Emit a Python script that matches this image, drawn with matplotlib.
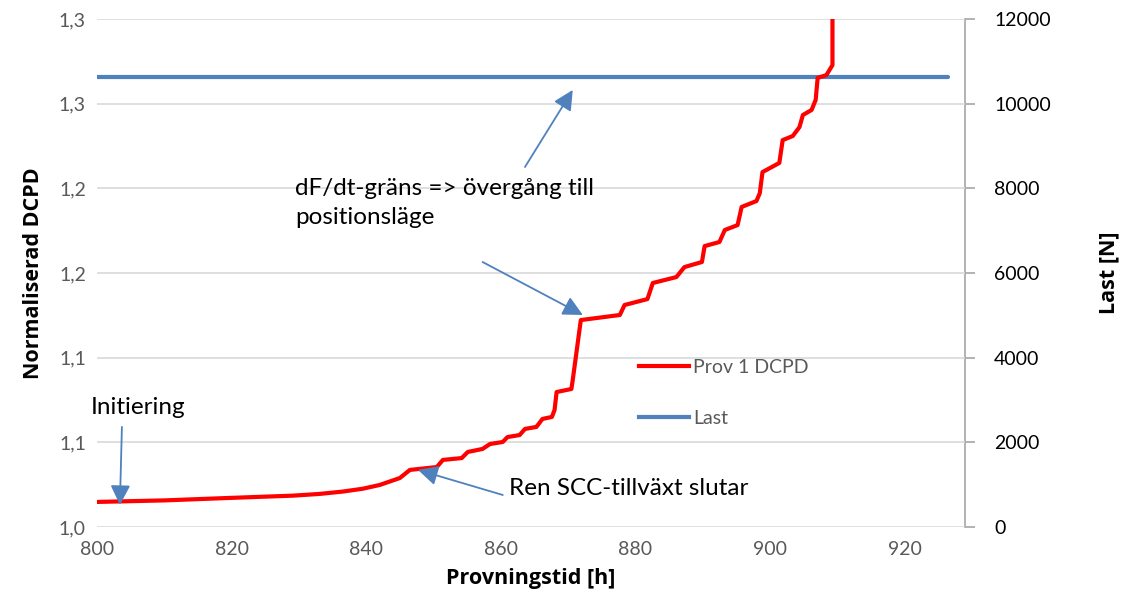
import matplotlib
matplotlib.use("Agg")
import matplotlib.pyplot as plt

plt.rcParams['font.family'] = ['Lato', 'DejaVu Sans']

# red DCPD curve
tid = [800.1, 810.0, 819.3, 829.1, 833.0, 836.5, 839.5, 842.0, 845.0, 846.5, 850.5, 851.4, 854.2,
       855.1, 857.3, 858.4, 860.3, 861.0, 862.8, 863.6, 865.3, 866.2, 867.6,
       868.0, 868.3, 870.5, 870.7, 871.3, 871.9, 877.7, 878.4, 881.8, 882.6,
       886.1, 887.3, 889.9, 890.3, 892.5, 893.3, 895.2, 895.8, 898.0, 898.5,
       898.9, 901.4, 901.9, 903.4, 904.4, 904.9, 906.2, 906.8, 907.1, 908.4,
       909.3, 909.3]
dcpd = [1.0148, 1.0157, 1.0171, 1.0185, 1.0195, 1.0209, 1.0226, 1.0248, 1.0289, 1.0337, 1.0354, 1.0396, 1.0407,
        1.0443, 1.0461, 1.0490, 1.0502, 1.0531, 1.0543, 1.0579, 1.0591, 1.0638, 1.0650,
        1.0691, 1.0797, 1.0815, 1.0868, 1.1045, 1.1222, 1.1252, 1.1311, 1.1346, 1.1441,
        1.1476, 1.1535, 1.1565, 1.1659, 1.1683, 1.1754, 1.1783, 1.1890, 1.1925, 1.1972,
        1.2096, 1.2150, 1.2285, 1.2309, 1.2362, 1.2433, 1.2463, 1.2522, 1.2652, 1.2669,
        1.2728, 1.32]

# load (blue), constant level
last_tid = [800.0, 926.4]
last = [10620, 10620]

left_ticks = [1.00, 1.05, 1.10, 1.15, 1.20, 1.25, 1.30]
left_labels = ["1,0", "1,1", "1,1", "1,2", "1,2", "1,3", "1,3"]
right_ticks = [0, 2000, 4000, 6000, 8000, 10000, 12000]
x_ticks = [800, 820, 840, 860, 880, 900, 920]

grey = '#595959'
red = '#FF0000'
blue = '#4F81BD'

fig = plt.figure(figsize=(11.32, 6.0), dpi=100)
ax = fig.add_axes([0.0857, 0.1217, 0.8525 - 0.0857, 0.9683 - 0.1217])
ax2 = ax.twinx()

ax.set_zorder(ax2.get_zorder() + 1)
ax.patch.set_visible(False)

ax2.plot(last_tid, last, color=blue, lw=3, solid_capstyle='round', label='Last')
ax.plot(tid, dcpd, color=red, lw=3, solid_joinstyle='round', label='Prov 1 DCPD')
ax.plot([], [], color=blue, lw=3, label='Last')

ax.set_xlim(800, 929)
ax.set_ylim(1.0, 1.3)
ax2.set_ylim(0, 12000)

ax.set_xticks(x_ticks)
ax.set_yticks(left_ticks)
ax.set_yticklabels(left_labels)
ax2.set_yticks(right_ticks)

ax.grid(axis='y', color='#D9D9D9', lw=1.2)
ax.set_axisbelow(True)
for s in ['top', 'left', 'bottom', 'right']:
    ax.spines[s].set_visible(False)
for s in ['top', 'left', 'bottom']:
    ax2.spines[s].set_visible(False)
ax2.spines['right'].set_color('#A6A6A6')
ax2.spines['right'].set_linewidth(1.2)

ax.tick_params(axis='both', length=0, labelsize=14, labelcolor=grey, pad=8)
ax.tick_params(axis='x', pad=10)
ax2.tick_params(axis='y', length=7, width=1.2, color='#A6A6A6', labelsize=14,
                labelcolor='black', pad=14)

lab = dict(fontsize=15.5, fontweight='bold', family='Open Sans')
ax.set_xlabel('Provningstid [h]', labelpad=7, **lab)
ax.set_ylabel('Normaliserad DCPD', labelpad=11, **lab)
ax2.set_ylabel('Last [N]', labelpad=34, **lab)

ax.legend(loc='upper left', bbox_to_anchor=(0.604, 0.365), frameon=False, fontsize=14,
          labelcolor=grey, handlelength=2.6, handletextpad=0.2, labelspacing=1.75)

arrow = dict(arrowstyle='-|>', color=blue, lw=1.3, mutation_scale=30,
             shrinkA=0, shrinkB=0)
ax.annotate('', xy=(803.4, 1.0130), xytext=(803.7, 1.0591), arrowprops=arrow)
ax.annotate('', xy=(847.7, 1.0337), xytext=(860.3, 1.0189), arrowprops=arrow)
ax.annotate('', xy=(872.2, 1.1252), xytext=(857.3, 1.1565), arrowprops=arrow)
ax.annotate('', xy=(870.7, 1.2581), xytext=(863.6, 1.2126), arrowprops=arrow)

txt = dict(fontsize=17.5, ha='left', va='center')
ax.text(799.0, 1.0703, 'Initiering', **txt)
ax.text(861.3, 1.0230, 'Ren SCC-tillväxt slutar', **txt)
ax.text(829.4, 1.1913, 'dF/dt-gräns => övergång till\npositionsläge', linespacing=1.5, **txt)

fig.savefig('out.png', dpi=100)
